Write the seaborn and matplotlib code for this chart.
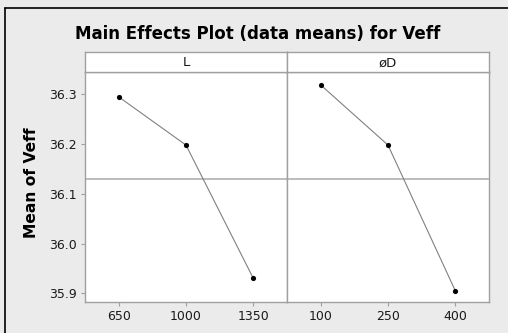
import matplotlib
matplotlib.use("Agg")
import matplotlib.pyplot as plt
import seaborn as sns
import pandas as pd
from matplotlib.lines import Line2D

sns.set_style("white")
plt.rcParams['font.family'] = ['DejaVu Sans']

factors = ["L", "øD"]
L_levels = ["650", "1000", "1350"]
L_means = [36.295, 36.198, 35.930]
D_levels = ["100", "250", "400"]
D_means = [36.319, 36.198, 35.905]
grand_mean = 36.13
y_ticks = [35.9, 36.0, 36.1, 36.2, 36.3]

W, H = 508, 333
fig = plt.figure(figsize=(W / 100, H / 100), dpi=100)
fig.patch.set_facecolor("#ebebeb")

# outer border (top and left)
fig.add_artist(Line2D([5 / W, 1], [1 - 8 / H, 1 - 8 / H], color="black", lw=1.2, transform=fig.transFigure))
fig.add_artist(Line2D([5 / W, 5 / W], [0, 1 - 8 / H], color="black", lw=1.2, transform=fig.transFigure))

left, mid, right = 85 / W, 287 / W, 489 / W
bottom, top, strip_top = 1 - 302 / H, 1 - 72 / H, 1 - 52 / H
spine_col = "#a0a0a0"

panels = [(L_levels, L_means), (D_levels, D_means)]
xs = [left, mid]
for i, (levels, means) in enumerate(panels):
    x0 = xs[i]
    w = (right - left) / 2
    ax = fig.add_axes([x0, bottom, w, top - bottom])
    ax.set_facecolor("white")
    df = pd.DataFrame({"level": levels, "mean": means})
    sns.lineplot(data=df, x="level", y="mean", ax=ax, color="#808080", lw=0.8, sort=False)
    sns.scatterplot(data=df, x="level", y="mean", ax=ax, color="black", s=14, edgecolor="black", linewidth=0, zorder=5)
    ax.axhline(grand_mean, color="#b0b0b0", lw=1.2, zorder=1)
    ax.set_xlim(-0.5, 2.5)
    ax.set_ylim(35.8825, 36.345)
    ax.set_xlabel("")
    ax.set_ylabel("")
    for s in ax.spines.values():
        s.set_color(spine_col)
        s.set_linewidth(1.0)
    ax.tick_params(axis="both", length=3, width=0.8, color=spine_col, labelsize=9, labelcolor="#1a1a1a", pad=3, direction="out", bottom=True)
    ax.set_yticks(y_ticks)
    if i == 0:
        ax.set_yticklabels([f"{t:.1f}" for t in y_ticks])
        ax.tick_params(axis="y", left=True)
    else:
        ax.set_yticks([])
    # strip
    sax = fig.add_axes([x0, top, w, strip_top - top])
    sax.set_facecolor("white")
    sax.set_xticks([])
    sax.set_yticks([])
    for s in sax.spines.values():
        s.set_color(spine_col)
        s.set_linewidth(1.0)
    sax.text(0.5, 0.45, factors[i], ha="center", va="center", fontsize=9.5, color="#1a1a1a", transform=sax.transAxes)

fig.text(0.508, 1 - 34 / H, "Main Effects Plot (data means) for Veff", ha="center", va="center",
         fontsize=12, fontweight="bold", color="black")
fig.text(32 / W, 1 - 183 / H, "Mean of Veff", ha="center", va="center", rotation=90,
         fontsize=11.2, fontweight="bold", color="black")

fig.savefig("out.png", dpi=100, facecolor=fig.get_facecolor())
